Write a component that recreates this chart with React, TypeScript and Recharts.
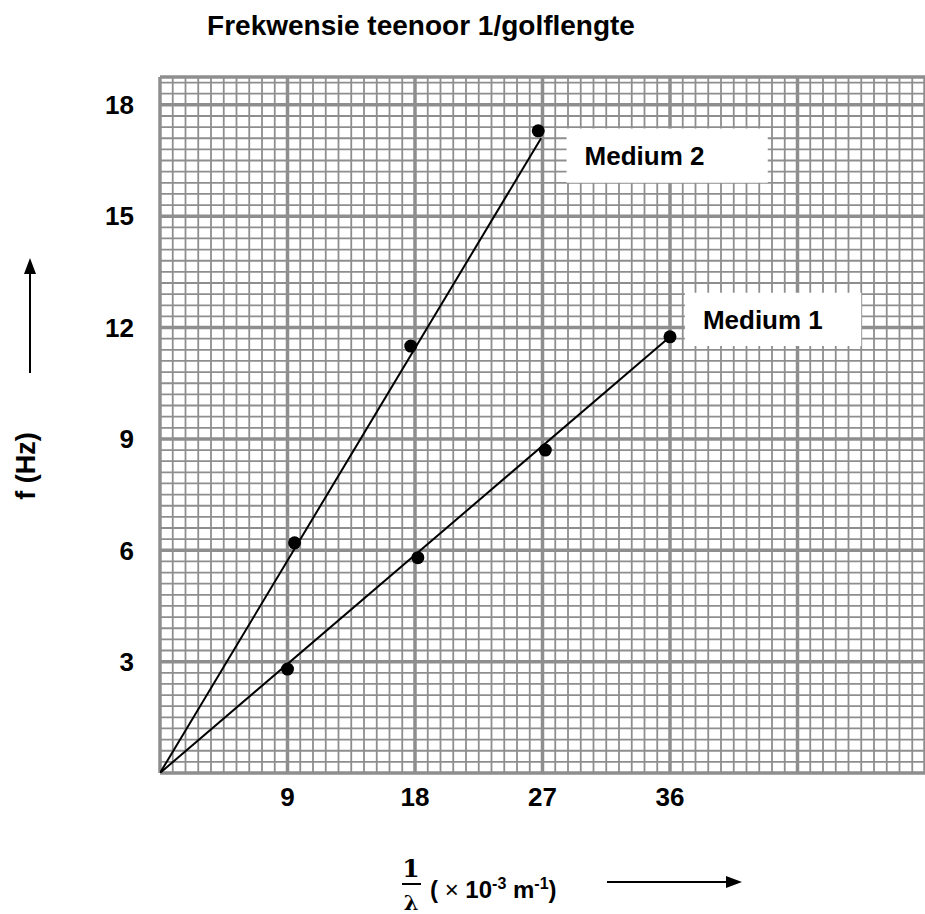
import { ComposedChart, XAxis, YAxis, Line, Scatter, CartesianGrid, ReferenceArea } from "recharts";

// values
const X_TICKS = [9, 18, 27, 36];
const Y_TICKS = [3, 6, 9, 12, 15, 18];

const medium1Points = [
  { x: 9.0, y: 2.8 },
  { x: 18.2, y: 5.8 },
  { x: 27.2, y: 8.7 },
  { x: 36.0, y: 11.75 },
];
const medium2Points = [
  { x: 9.5, y: 6.2 },
  { x: 17.7, y: 11.5 },
  { x: 26.7, y: 17.3 },
];
const medium1Fit = [
  { x: 0, y: 0 },
  { x: 36.0, y: 11.75 },
];
const medium2Fit = [
  { x: 0, y: 0 },
  { x: 26.9, y: 17.1 },
];

const X_MAX = 54;
const Y_MAX = 18.75;

// graph paper: 10 small squares per labelled step
const xMinor = Array.from({ length: 61 }, (_, i) => +(i * 0.9).toFixed(2));
const yMinor = [...Array.from({ length: 63 }, (_, i) => +(i * 0.3).toFixed(2)), Y_MAX];
const xMajor = [0, 9, 18, 27, 36, 45, 54];
const yMajor = [0, 3, 6, 9, 12, 15, 18, Y_MAX];

const FONT = "'Liberation Sans', Arial, sans-serif";
const GRID = "#8e8e8e";

const Dot = (props: any) => <circle cx={props.cx} cy={props.cy} r={6.5} fill="#000" />;

const boxLabel = (value: string) => ({
  value,
  position: "insideLeft" as const,
  offset: 18,
  fill: "#000",
  fontSize: 26,
  fontWeight: "bold",
  fontFamily: FONT,
});

// map values through the axis scale (fallback: linear over the plot box)
const xGen = (vals: number[]) => ({ xAxis, offset }: any) =>
  vals.map((v) =>
    xAxis && typeof xAxis.scale === "function" ? xAxis.scale(v) : offset.left + (offset.width * v) / X_MAX
  );
const yGen = (vals: number[]) => ({ yAxis, offset }: any) =>
  vals.map((v) =>
    yAxis && typeof yAxis.scale === "function" ? yAxis.scale(v) : offset.top + offset.height * (1 - v / Y_MAX)
  );

export default function App() {
  return (
    <div style={{ position: "absolute", left: 0, top: 0, width: 925, height: 914, background: "#fff", overflow: "hidden" }}>
      <ComposedChart width={925} height={914} margin={{ top: 77, right: 0, bottom: 81, left: 0 }}>
        <CartesianGrid
          stroke={GRID}
          strokeWidth={1.8}
          strokeOpacity={1}
          verticalCoordinatesGenerator={xGen(xMinor)}
          horizontalCoordinatesGenerator={yGen(yMinor)}
        />
        <CartesianGrid
          stroke={GRID}
          strokeWidth={3.5}
          strokeOpacity={1}
          verticalCoordinatesGenerator={xGen(xMajor)}
          horizontalCoordinatesGenerator={yGen(yMajor)}
        />
        <XAxis
          type="number"
          dataKey="x"
          domain={[0, X_MAX]}
          ticks={X_TICKS}
          axisLine={false}
          tickLine={false}
          tickSize={0}
          tickMargin={15}
          height={60}
          allowDataOverflow
          tick={{ fill: "#000", fontSize: 26, fontWeight: "bold", fontFamily: FONT }}
        />
        <YAxis
          type="number"
          dataKey="y"
          domain={[0, Y_MAX]}
          ticks={Y_TICKS}
          axisLine={false}
          tickLine={false}
          tickSize={0}
          tickMargin={26}
          width={160}
          allowDataOverflow
          tick={{ fill: "#000", fontSize: 26, fontWeight: "bold", fontFamily: FONT }}
        />
        <ReferenceArea x1={28.7} x2={42.9} y1={15.9} y2={17.36} fill="#fff" fillOpacity={1} stroke="none" label={boxLabel("Medium 2")} />
        <ReferenceArea x1={37.05} x2={49.5} y1={11.5} y2={12.94} fill="#fff" fillOpacity={1} stroke="none" label={boxLabel("Medium 1")} />
        <Line data={medium1Fit} dataKey="y" type="linear" stroke="#000" strokeWidth={2} dot={false} isAnimationActive={false} />
        <Line data={medium2Fit} dataKey="y" type="linear" stroke="#000" strokeWidth={2} dot={false} isAnimationActive={false} />
        <Scatter data={medium1Points} dataKey="y" shape={Dot} isAnimationActive={false} />
        <Scatter data={medium2Points} dataKey="y" shape={Dot} isAnimationActive={false} />
      </ComposedChart>
      <svg width={925} height={914} style={{ position: "absolute", left: 0, top: 0, pointerEvents: "none" }}>
        <text x={421} y={35} textAnchor="middle" fontFamily={FONT} fontWeight="bold" fontSize={28} fill="#000">
          Frekwensie teenoor 1/golflengte
        </text>
        <text
          x={26}
          y={466}
          transform="rotate(-90 26 466)"
          textAnchor="middle"
          dominantBaseline="central"
          fontFamily={FONT}
          fontWeight="bold"
          fontSize={27}
          fill="#000"
        >
          f (Hz)
        </text>
        <line x1={30} y1={373} x2={30} y2={272} stroke="#000" strokeWidth={2} />
        <polygon points="30,258 24,274 36,274" fill="#000" />
        <text x={411} y={877} textAnchor="middle" fontFamily="'DejaVu Serif', serif" fontWeight="bold" fontSize={25} fill="#000">
          1
        </text>
        <line x1={402} y1={884} x2={421} y2={884} stroke="#000" strokeWidth={2} />
        <text x={411} y={910} textAnchor="middle" fontFamily="'DejaVu Serif', serif" fontWeight="bold" fontSize={21} fill="#000">
          λ
        </text>
        <text x={430} y={898} fontFamily={FONT} fontWeight="bold" fontSize={24} fill="#000">
          ( <tspan fontWeight="normal">×</tspan> 10
          <tspan dy={-9} fontSize={16}>-3</tspan>
          <tspan dy={9}> m</tspan>
          <tspan dy={-9} fontSize={16}>-1</tspan>
          <tspan dy={9}>)</tspan>
        </text>
        <line x1={607} y1={882} x2={730} y2={882} stroke="#000" strokeWidth={2} />
        <polygon points="742,882 726,876 726,888" fill="#000" />
      </svg>
    </div>
  );
}
